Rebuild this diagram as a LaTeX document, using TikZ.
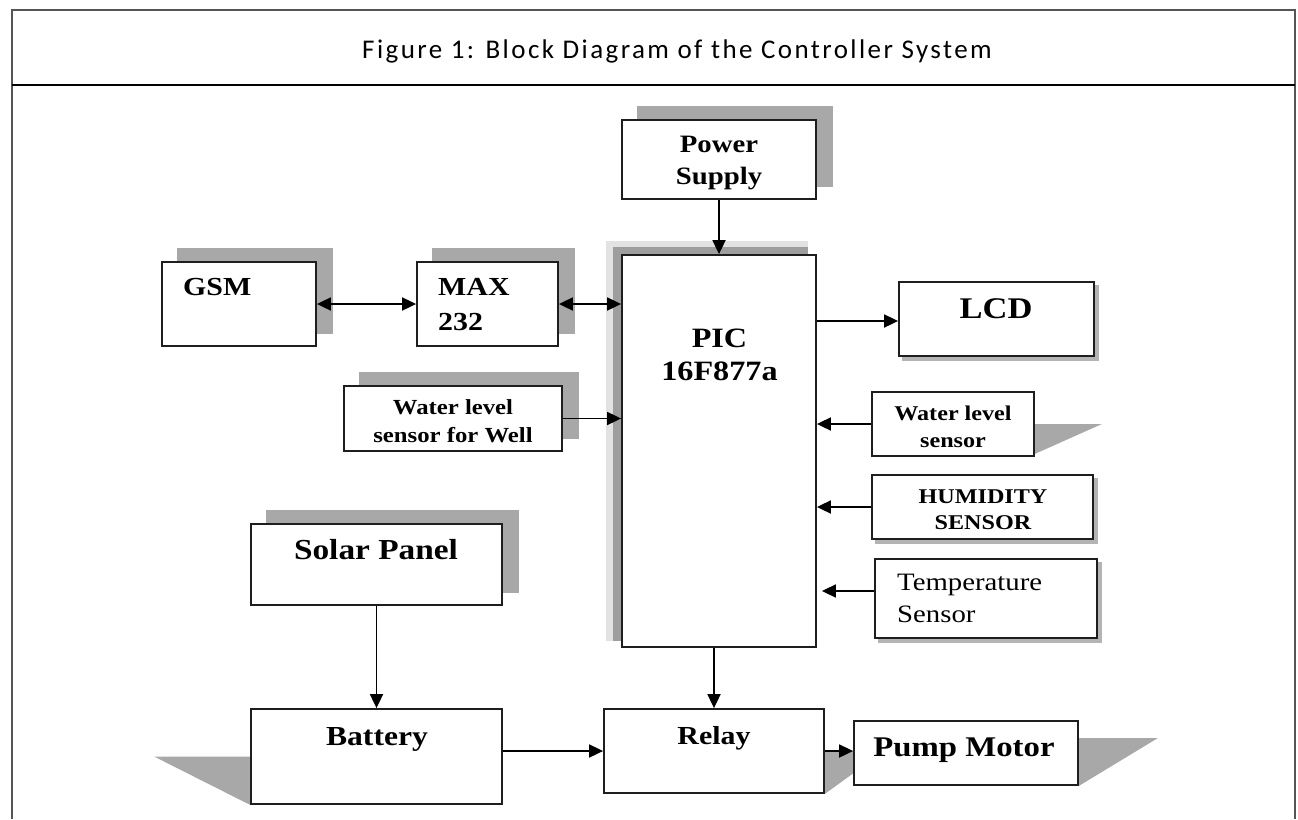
\documentclass[tikz,border=0pt]{standalone}
\usepackage{fontspec}
\setmainfont{Liberation Serif}[FakeStretch=1.15]
\newfontfamily\titlefont{Carlito}[LetterSpace=9]
\usetikzlibrary{arrows.meta,backgrounds,calc}
\definecolor{shadowgray}{HTML}{A8A8A8}
\definecolor{lightshade}{HTML}{E2E2E2}
\definecolor{darkshade}{HTML}{9E9E9E}
\definecolor{thinshade}{HTML}{B4B4B4}
\definecolor{framegray}{HTML}{555555}
\definecolor{boxline}{HTML}{1E1E1E}
\newcommand{\fsz}[1]{\fontsize{#1}{#1}\selectfont}
\tikzset{
  blk/.style={draw=boxline, line width=1.8pt, fill=white, rectangle, inner sep=0pt},
  lbl/.style={inner sep=0pt, anchor=base},
  lblw/.style={inner sep=0pt, anchor=base west},
  conn/.style={line width=1.8pt, -{Triangle[length=14pt,width=13pt]}},
  biconn/.style={line width=1.8pt, {Triangle[length=14pt,width=13pt]}-{Triangle[length=14pt,width=13pt]}},
  shd/.style={fill=shadowgray},
  thinshd/.style={fill=thinshade},
}
\begin{document}
\begin{tikzpicture}[x=1pt,y=-1pt]
\useasboundingbox (0,0) rectangle (1298,819);
% frame
\draw[framegray, line width=2pt] (12,819) -- (12,10) -- (1295,10) -- (1295,819);
\draw[black, line width=2.6pt] (12,85) -- (1295,85);
\node[lbl, font=\titlefont\fsz{27}] (title) at (677,58) {Figure 1: Block Diagram of the Controller System};

% boxes
\node[blk, minimum width=154pt, minimum height=84pt] (gsm) at (239,304) {};
\node[blk, minimum width=141pt, minimum height=84pt] (max) at (487.5,304) {};
\node[blk, minimum width=194pt, minimum height=79pt] (power) at (719,159.5) {};
\node[blk, minimum width=194pt, minimum height=392pt] (pic) at (719,451) {};
\node[blk, minimum width=195pt, minimum height=74pt] (lcd) at (996.5,319) {};
\node[blk, minimum width=218pt, minimum height=65pt] (wlw) at (453,418.5) {};
\node[blk, minimum width=162pt, minimum height=64pt] (wls) at (953,424) {};
\node[blk, minimum width=221pt, minimum height=64pt] (hum) at (982.5,507) {};
\node[blk, minimum width=222pt, minimum height=79pt] (temp) at (986,598.5) {};
\node[blk, minimum width=251pt, minimum height=81pt] (solar) at (376.5,564.5) {};
\node[blk, minimum width=251pt, minimum height=95pt] (battery) at (376.5,756.5) {};
\node[blk, minimum width=220pt, minimum height=84pt] (relay) at (714,751) {};
\node[blk, minimum width=224pt, minimum height=64pt] (pump) at (966,753) {};

% shadows
\begin{scope}[on background layer]
  \foreach \b in {gsm,max,power,wlw,solar}
    \fill[shd] ([shift={(16,-13)}]\b.south west) rectangle ([shift={(16,-13)}]\b.north east);
  \fill[lightshade] ([shift={(-15,-13)}]pic.north west) rectangle ([shift={(-9,-7)}]pic.south east);
  \fill[darkshade] ([shift={(-8,-7)}]pic.north west) rectangle ([shift={(-9,-7)}]pic.south east);
  \foreach \b in {lcd,hum,temp}
    \fill[thinshd] ([shift={(4,4)}]\b.south west) rectangle ([shift={(4,4)}]\b.north east);
  \fill[shd] (wls.east) -- ++(67,0) -- ([yshift=3pt]wls.south east) -- cycle;
  \fill[shd] (battery.west) -- ++(-96,0) -- (battery.south west) -- cycle;
  \fill[shd] (relay.east) -- ++(59,0) -- (relay.south east) -- cycle;
  \fill[shd] ([yshift=15pt]pump.east) -- ++(79,0) -- (pump.south east) -- cycle;
\end{scope}

% labels
\node[lblw, font=\fsz{26}\bfseries] (gsmT) at (183,295) {GSM};
\node[lblw, font=\fsz{26}\bfseries] (maxT1) at (438,295) {MAX};
\node[lblw, font=\fsz{26}\bfseries] (maxT2) at (438,330) {232};
\node[lbl, font=\fsz{25}\bfseries] (powerT1) at (719,152) {Power};
\node[lbl, font=\fsz{25}\bfseries] (powerT2) at (719,184) {Supply};
\node[lbl, font=\fsz{28}\bfseries] (picT1) at (719.5,347) {PIC};
\node[lbl, font=\fsz{28}\bfseries] (picT2) at (719.5,380) {16F877a};
\node[lbl, font=\fsz{30}\bfseries] (lcdT) at (996,318) {LCD};
\node[lbl, font=\fsz{21.5}\bfseries] (wlwT1) at (453,414) {Water level};
\node[lbl, font=\fsz{21.5}\bfseries] (wlwT2) at (453,442) {sensor for Well};
\node[lbl, font=\fsz{21}\bfseries] (wlsT1) at (953,420) {Water level};
\node[lbl, font=\fsz{21}\bfseries] (wlsT2) at (953,447) {sensor};
\node[lbl, font=\fsz{21}\bfseries] (humT1) at (983,503) {HUMIDITY};
\node[lbl, font=\fsz{21}\bfseries] (humT2) at (983,529) {SENSOR};
\node[lblw, font=\fsz{25}] (tempT1) at (897,590) {Temperature};
\node[lblw, font=\fsz{25}] (tempT2) at (897,622) {Sensor};
\node[lbl, font=\fsz{29}\bfseries] (solarT) at (376,559) {Solar Panel};
\node[lbl, font=\fsz{27.5}\bfseries] (batteryT) at (377,745) {Battery};
\node[lbl, font=\fsz{26}\bfseries] (relayT) at (714,744) {Relay};
\node[lbl, font=\fsz{28.5}\bfseries] (pumpT) at (964,756) {Pump Motor};

% connectors
\draw[biconn] (gsm.east) -- (max.west);
\draw[biconn] (max.east) -- (max.east -| pic.west);
\draw[conn] (power.south) -- (pic.north);
\draw[conn] ([yshift=-2pt]lcd.west -| pic.east) -- ([yshift=-2pt]lcd.west);
\draw[conn] (wlw.east) -- (wlw.east -| pic.west);
\draw[conn] (wls.west) -- (wls.west -| pic.east);
\draw[conn] (hum.west) -- (hum.west -| pic.east);
\draw[conn] ([yshift=7.5pt]temp.west) -- ([yshift=7.5pt,xshift=5pt]temp.west -| pic.east);
\draw[conn] (relay.north |- pic.south) -- (relay.north);
\draw[conn] (solar.south) -- (battery.north);
\draw[conn] (relay.west -| battery.east) -- (relay.west);
\draw[conn] (relay.east) -- (relay.east -| pump.west);
\end{tikzpicture}
\end{document}
